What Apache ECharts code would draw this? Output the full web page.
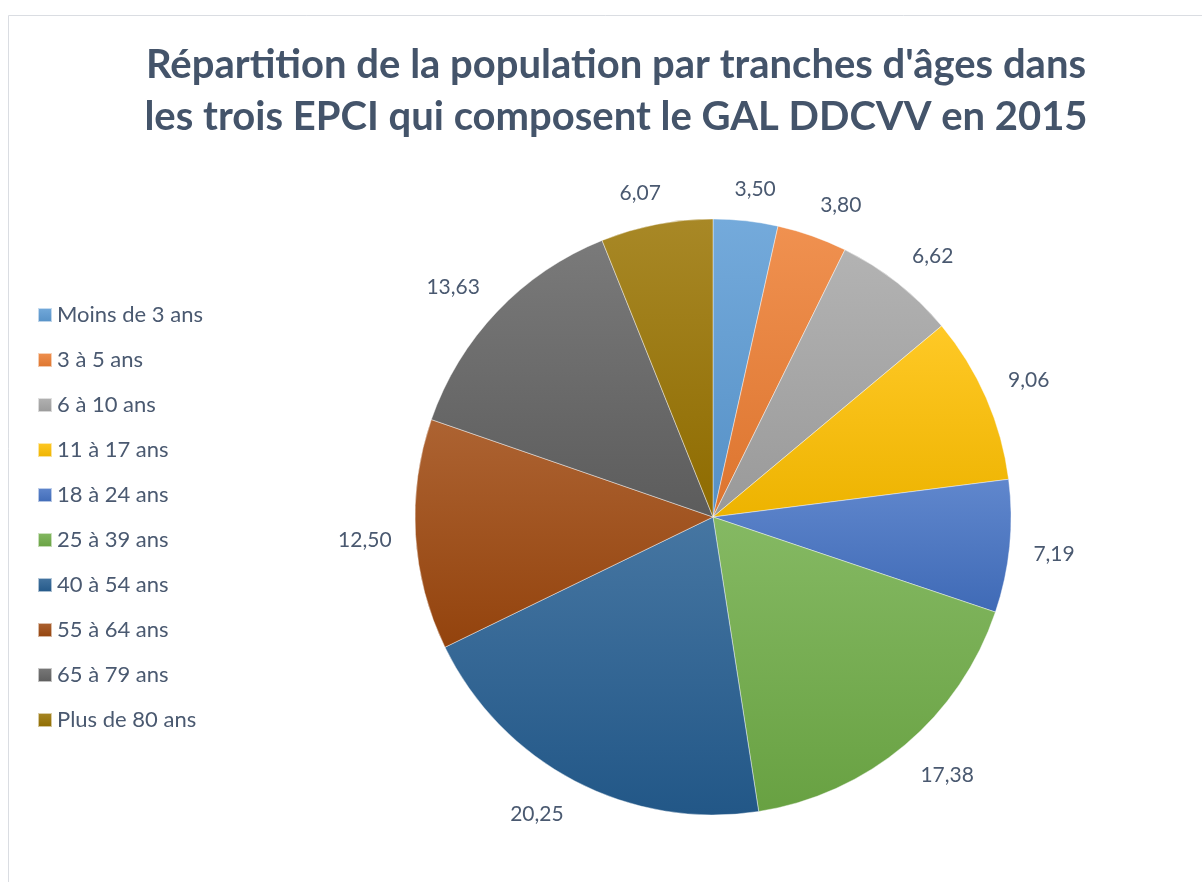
<!DOCTYPE html>
<html>
<head>
<meta charset="utf-8">
<script src="https://cdn.jsdelivr.net/npm/echarts@6/dist/echarts.min.js"></script>
<style>
    html, body { margin: 0; padding: 0; background: #fff; }
    #main { width: 1202px; height: 882px; }
</style>
</head>
<body>
<div id="main"></div>
<script>
var titre = 'Répartition de la population par tranches d\'âges dans\nles trois EPCI qui composent le GAL DDCVV en 2015';
var tranches = ['Moins de 3 ans', '3 à 5 ans', '6 à 10 ans', '11 à 17 ans', '18 à 24 ans',
    '25 à 39 ans', '40 à 54 ans', '55 à 64 ans', '65 à 79 ans', 'Plus de 80 ans'];
var valeurs = [3.50, 3.80, 6.62, 9.06, 7.19, 17.38, 20.25, 12.50, 13.63, 6.07];
var couleurs = ['#5B9BD5', '#ED7D31', '#A5A5A5', '#FFC000', '#4472C4',
    '#70AD47', '#255E91', '#9E480E', '#636363', '#997300'];

var cx = 713, cy = 517, rayon = 298;

function melange(hex, cible, t) {
    var r = parseInt(hex.substr(1, 2), 16), g = parseInt(hex.substr(3, 2), 16), b = parseInt(hex.substr(5, 2), 16);
    r = Math.round(r + (cible - r) * t);
    g = Math.round(g + (cible - g) * t);
    b = Math.round(b + (cible - b) * t);
    return 'rgb(' + r + ',' + g + ',' + b + ')';
}

function borne(v) {
    return Math.max(-1, Math.min(1, v));
}

var total = valeurs.reduce(function (a, b) { return a + b; }, 0);
var cumul = [];
var s = 0;
for (var i = 0; i < valeurs.length; i++) {
    cumul.push(s + valeurs[i] / 2);
    s += valeurs[i];
}

var data = [];
for (var i = 0; i < tranches.length; i++) {
    data.push({
        name: tranches[i],
        value: valeurs[i],
        itemStyle: {
            color: new echarts.graphic.LinearGradient(0, 0, 0, 1, [
                { offset: 0, color: melange(couleurs[i], 255, 0.15) },
                { offset: 1, color: melange(couleurs[i], 0, 0.07) }
            ])
        }
    });
}

var myChart = echarts.init(document.getElementById('main'));
var option = {
    backgroundColor: '#fff',
    animation: false,
    graphic: [
        { type: 'line', shape: { x1: 8.5, y1: 15.5, x2: 1202, y2: 15.5 }, style: { stroke: '#DADDE2', lineWidth: 1 } },
        { type: 'line', shape: { x1: 8.5, y1: 15.5, x2: 8.5, y2: 882 }, style: { stroke: '#DADDE2', lineWidth: 1 } }
    ],
    title: {
        text: titre,
        left: 611,
        top: 34,
        textAlign: 'center',
        textStyle: {
            fontFamily: 'Lato',
            fontSize: 40,
            fontWeight: 'bold',
            color: '#44546A',
            lineHeight: 52
        }
    },
    legend: {
        orient: 'vertical',
        left: 32,
        top: 299,
        icon: 'rect',
        itemWidth: 14,
        itemHeight: 14,
        itemGap: 23,
        data: tranches,
        textStyle: {
            fontFamily: 'Lato',
            fontSize: 22,
            lineHeight: 22,
            color: '#4A5970'
        }
    },
    series: [{
        type: 'pie',
        center: [cx, cy],
        radius: rayon,
        startAngle: 90,
        clockwise: true,
        data: data,
        itemStyle: {
            borderColor: 'rgba(255,255,255,0.6)',
            borderWidth: 0.7
        },
        label: {
            show: true,
            position: 'outside',
            formatter: function (p) { return p.value.toFixed(2).replace('.', ','); },
            fontFamily: 'Lato',
            fontSize: 21,
            color: '#4A5970'
        },
        labelLine: { show: false },
        labelLayout: function (p) {
            var a = cumul[p.dataIndex] / total * 2 * Math.PI;
            var sn = Math.sin(a), cs = Math.cos(a);
            var w = p.labelRect.width, h = 20;
            var r = rayon + 24;
            return {
                x: cx + r * sn + borne(3 * sn) * w / 2,
                y: cy - r * cs - borne(3 * cs) * h / 2 + 2,
                align: 'center',
                verticalAlign: 'middle'
            };
        },
        emphasis: { disabled: true }
    }]
};
myChart.setOption(option);
</script>
</body>
</html>
